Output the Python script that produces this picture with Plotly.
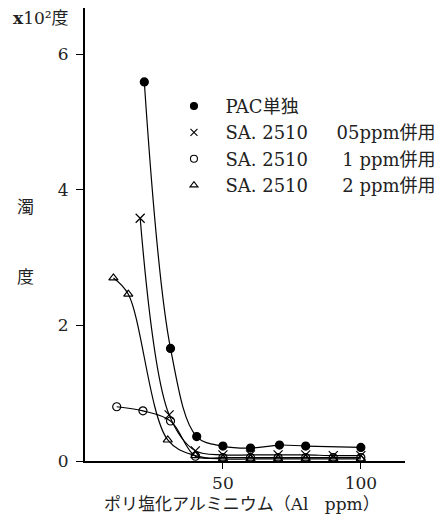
import plotly.graph_objects as go

# --- data ---
x_pac = [21.5, 31, 40.5, 50, 60, 70.5, 80, 100]
y_pac = [5.59, 1.66, 0.36, 0.22, 0.19, 0.235, 0.22, 0.20]

x_sa05 = [20, 30.5, 40, 50, 60, 70, 80, 90, 100]
y_sa05 = [3.58, 0.68, 0.15, 0.09, 0.09, 0.09, 0.09, 0.08, 0.08]

x_sa1 = [11.5, 21, 31, 40, 50, 60, 70, 80, 90, 100]
y_sa1 = [0.80, 0.74, 0.59, 0.07, 0.05, 0.05, 0.05, 0.05, 0.05, 0.05]

x_sa2 = [10.3, 15.7, 30, 40, 50, 60, 70, 80, 90, 100]
y_sa2 = [2.70, 2.46, 0.31, 0.08, 0.03, 0.03, 0.03, 0.03, 0.03, 0.03]

nb = "\u00a0"
names = ["PAC単独",
         "SA. 2510" + nb * 5 + "05ppm併用",
         "SA. 2510" + nb * 6 + "1" + nb + "ppm併用",
         "SA. 2510" + nb * 6 + "2" + nb + "ppm併用"]
symbols = ["circle", "x-thin-open", "circle-open", "triangle-up-open"]
xt_vals = [50, 100]
yt_vals = [0, 2, 4, 6]

series = [(x_pac, y_pac), (x_sa05, y_sa05), (x_sa1, y_sa1), (x_sa2, y_sa2)]

fig = go.Figure()
for (xs, ys), sym in zip(series, symbols):
    fig.add_trace(go.Scatter(
        x=xs, y=ys, mode="lines+markers", showlegend=False,
        line=dict(color="black", width=1.2, shape="spline", smoothing=1.0),
        marker=dict(symbol=sym, size=8 if sym != "x-thin-open" else 9,
                    color="black", line=dict(color="black", width=1.2)),
        cliponaxis=False,
    ))

# legend-only traces (markers only)
for nm, sym in zip(names, symbols):
    fig.add_trace(go.Scatter(
        x=[None], y=[None], mode="markers", name=nb * 2 + nm,
        marker=dict(symbol=sym, size=7, color="black",
                    line=dict(color="black", width=1.1)),
    ))

serif = "DejaVu Serif, Liberation Serif, serif"
cjk = "Noto Sans CJK JP"

fig.update_layout(
    width=440, height=507,
    margin=dict(l=77, r=43, t=0, b=54),
    paper_bgcolor="white", plot_bgcolor="white",
    showlegend=True,
    legend=dict(x=0.278, y=0.824, xanchor="left", yanchor="top",
                font=dict(family=serif + ", " + cjk, size=18, color="#222"),
                bgcolor="rgba(0,0,0,0)", itemwidth=30, tracegroupgap=0),
    xaxis=dict(range=[0, 116], showgrid=False, zeroline=False,
               showline=True, linecolor="black", linewidth=2,
               ticks="outside", ticklen=6, tickcolor="black", tickwidth=1,
               tickvals=xt_vals, ticktext=[str(v) for v in xt_vals],
               tickfont=dict(family=serif, size=17, color="#222")),
    yaxis=dict(range=[0, 6.68], showgrid=False, zeroline=False,
               showline=True, linecolor="black", linewidth=2,
               ticks="outside", ticklen=7, tickcolor="black", tickwidth=1,
               ticklabelstandoff=4,
               tickvals=yt_vals, ticktext=[str(v) for v in yt_vals],
               tickfont=dict(family=serif, size=17, color="#222")),
    annotations=[
        dict(xref="paper", yref="paper", x=-0.232, y=0.978, xanchor="left", yanchor="middle",
             text="<b>x</b>10²度", showarrow=False,
             font=dict(family=serif + ", " + cjk, size=17, color="#222")),
        dict(xref="paper", yref="paper", x=-0.1875, y=0.565, xanchor="center", yanchor="middle",
             text="濁", showarrow=False, font=dict(family=cjk, size=17, color="#222")),
        dict(xref="paper", yref="paper", x=-0.1875, y=0.41, xanchor="center", yanchor="middle",
             text="度", showarrow=False, font=dict(family=cjk, size=17, color="#222")),
        dict(xref="paper", yref="paper", x=0.49, y=-0.095, xanchor="center", yanchor="middle",
             text="ポリ塩化アルミニウム（Al" + nb * 3 + "ppm）", showarrow=False,
             font=dict(family=serif + ", " + cjk, size=17, color="#222")),
    ],
)

fig.write_html("out.html")
